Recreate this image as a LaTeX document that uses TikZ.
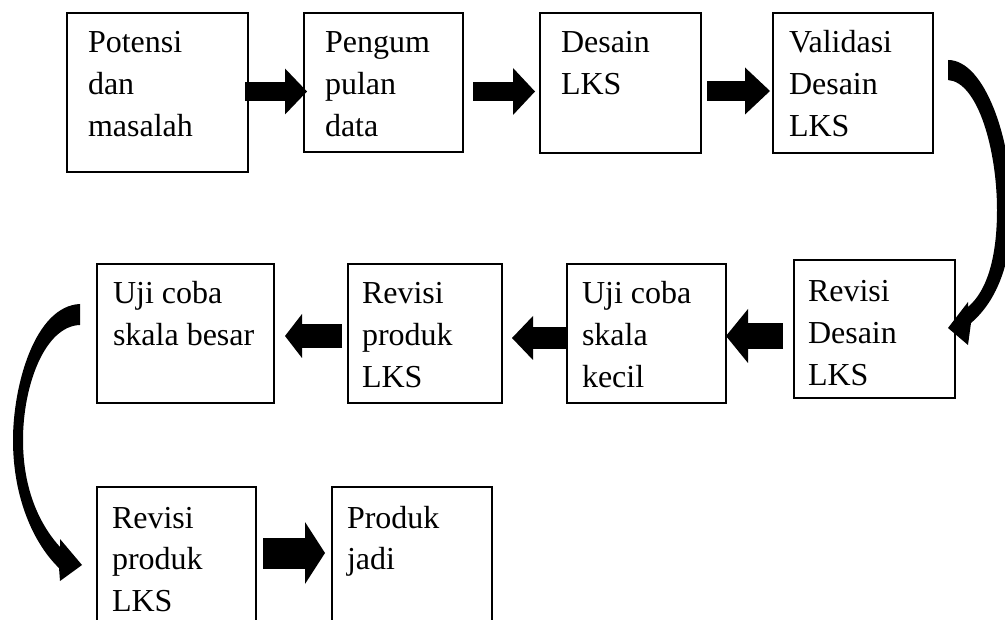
\documentclass[tikz,border=0pt]{standalone}
\usepackage{fontspec}
\setmainfont{Liberation Serif}
\usetikzlibrary{arrows.meta,calc}
\begin{document}
\begin{tikzpicture}[x=1pt,y=-1pt,
  box/.style={draw=black, line width=1.3pt, rectangle, anchor=north west, inner sep=0pt, outer sep=0pt},
  txt/.style={anchor=base west, inner sep=0pt, outer sep=0pt, font=\fontsize{32pt}{42pt}\selectfont},
  barrow/.style n args={3}{draw=black, line width=#1, -{Triangle[width=#2,length=#3,line width=0pt]}},
  curvearrow/.style={fill=black, draw=none}]
\clip (0,0) rectangle (1005,620);
\fill[white] (0,0) rectangle (1005,620);
% row 1
\node[box, minimum width=181pt, minimum height=159pt] (b1) at (67,13) {};
\node[box, minimum width=159pt, minimum height=139pt] (b2) at (304,13) {};
\node[box, minimum width=161pt, minimum height=140pt] (b3) at (540,13) {};
\node[box, minimum width=160pt, minimum height=140pt] (b4) at (773,13) {};
% row 2
\node[box, minimum width=161pt, minimum height=138pt] (b5) at (794,260) {};
\node[box, minimum width=159pt, minimum height=139pt] (b6) at (567,264) {};
\node[box, minimum width=154pt, minimum height=139pt] (b7) at (348,264) {};
\node[box, minimum width=177pt, minimum height=139pt] (b8) at (97,264) {};
% row 3
\node[box, minimum width=159pt, minimum height=160pt] (b9) at (97,487) {};
\node[box, minimum width=160pt, minimum height=160pt] (b10) at (332,487) {};
% texts
\node[txt] (t1) at ($(b1.north west)+(21,40)$) {\parbox[t]{200pt}{Potensi\\dan\\masalah}};
\node[txt] (t2) at ($(b2.north west)+(21,40)$) {\parbox[t]{200pt}{Pengum\\pulan\\data}};
\node[txt] (t3) at ($(b3.north west)+(21,40)$) {\parbox[t]{200pt}{Desain\\LKS}};
\node[txt] (t4) at ($(b4.north west)+(16,40)$) {\parbox[t]{200pt}{Validasi\\Desain\\LKS}};
\node[txt] (t5) at ($(b5.north west)+(14,42)$) {\parbox[t]{200pt}{Revisi\\Desain\\LKS}};
\node[txt] (t6) at ($(b6.north west)+(15,40)$) {\parbox[t]{200pt}{Uji coba\\skala\\kecil}};
\node[txt] (t7) at ($(b7.north west)+(14,40)$) {\parbox[t]{200pt}{Revisi\\produk\\LKS}};
\node[txt] (t8) at ($(b8.north west)+(16,40)$) {\parbox[t]{200pt}{Uji coba\\skala besar}};
\node[txt] (t9) at ($(b9.north west)+(15,41)$) {\parbox[t]{200pt}{Revisi\\produk\\LKS}};
\node[txt] (t10) at ($(b10.north west)+(15,41)$) {\parbox[t]{200pt}{Produk\\jadi}};
% block arrows
\draw[barrow={19pt}{46pt}{22pt}] ($(b1.north east)+(-3,78.5)$) -- ($(b2.north west)+(3,78.5)$);
\draw[barrow={19pt}{47pt}{22pt}] ($(b2.north east)+(10,78.5)$) -- ($(b3.north west)+(-5,78.5)$);
\draw[barrow={20pt}{47pt}{25pt}] ($(b3.north east)+(6,78)$) -- ($(b4.north west)+(-3,78)$);
\draw[barrow={26pt}{54pt}{22pt}] ($(b5.north west)+(-11,76)$) -- ($(b6.north east)+(0,72)$);
\draw[barrow={22pt}{44pt}{21pt}] ($(b6.north west)+(0,74)$) -- ($(b7.north east)+(10,74)$);
\draw[barrow={24pt}{44pt}{17pt}] ($(b7.north west)+(-6,72)$) -- ($(b8.north east)+(11,72)$);
\draw[barrow={31pt}{62pt}{20pt}] ($(b9.north east)+(7,66)$) -- ($(b10.north west)+(-7,66)$);
% curved arrow b4 -> b5
\path[curvearrow] (948,60) .. controls (985,60) and (1012,140) .. (1012,210)
  .. controls (1012,260) and (998,300) .. (971,323) -- (968,345) -- (948,328) -- (968,302) -- (968,307)
  .. controls (988,290) and (997,255) .. (997,210)
  .. controls (997,150) and (978,82) .. (948,80) -- cycle;
% curved arrow b8 -> b9
\path[curvearrow] (80,304) .. controls (35,306) and (13,385) .. (13,440)
  .. controls (13,500) and (35,545) .. (59,568) -- (60,581) -- (82,565) -- (60,539) -- (60,547)
  .. controls (40,525) and (23,490) .. (23,440)
  .. controls (23,385) and (45,326) .. (80,325) -- cycle;
\end{tikzpicture}
\end{document}
